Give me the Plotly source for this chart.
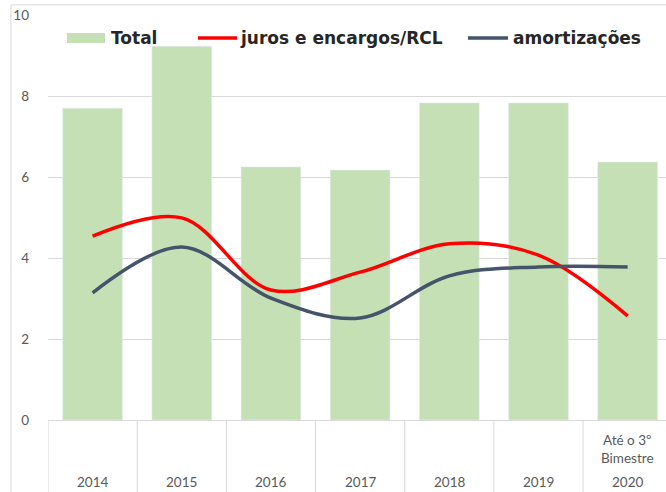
import plotly.graph_objects as go

years = ["2014", "2015", "2016", "2017", "2018", "2019", "2020"]
total = [7.70, 9.23, 6.25, 6.17, 7.83, 7.83, 6.37]
juros = [4.54, 4.99, 3.21, 3.65, 4.35, 4.07, 2.57]
amort = [3.14, 4.27, 3.01, 2.52, 3.56, 3.78, 3.78]
extra_label = ["", "", "", "", "", "", "Até o 3º<br>Bimestre"]
yticks = [0, 2, 4, 6, 8, 10]

GREEN = "#c5e0b4"
RED = "#ff0000"
NAVY = "#44546a"
FONT = "Lato"
LFONT = "DejaVu Sans"

fig = go.Figure()
fig.add_trace(go.Bar(x=years, y=total, name="Total", marker_color=GREEN, showlegend=False))
fig.add_trace(go.Scatter(x=years, y=juros, name="juros e encargos/RCL", mode="lines",
                         line=dict(color=RED, width=3.5, shape="spline"), showlegend=False))
fig.add_trace(go.Scatter(x=years, y=amort, name="amortizações", mode="lines",
                         line=dict(color=NAVY, width=3.5, shape="spline"), showlegend=False))

shapes = []
annotations = []
# outer chart frame
shapes.append(dict(type="rect", xref="paper", yref="paper", x0=-0.06, x1=1.2, y0=-0.3, y1=1.025,
                   line=dict(color="#d9d9d9", width=1), fillcolor="rgba(0,0,0,0)", layer="below"))
# category separators
for i in range(len(years)):
    shapes.append(dict(type="line", xref="x", yref="paper", x0=i - 0.5, x1=i - 0.5, y0=0, y1=-0.2,
                       line=dict(color="#d9d9d9", width=1)))
for i, y in enumerate(years):
    annotations.append(dict(x=i, y=-0.153, xref="x", yref="paper", text=y, showarrow=False,
                            font=dict(family=FONT, size=13.5, color="#595959"), yanchor="middle"))
    if extra_label[i]:
        annotations.append(dict(x=i, y=-0.072, xref="x", yref="paper", text=extra_label[i], showarrow=False,
                                font=dict(family=FONT, size=13.5, color="#595959"), yanchor="middle"))

# manual legend
W, H = 618.0, 405.0
def px(x):
    return (x - 48) / W
def py(y):
    return (420 - y) / H
ly = 38
shapes.append(dict(type="rect", xref="paper", yref="paper", x0=px(67), x1=px(105), y0=py(ly + 5), y1=py(ly - 5),
                   fillcolor=GREEN, line=dict(width=0)))
shapes.append(dict(type="line", xref="paper", yref="paper", x0=px(198), x1=px(237), y0=py(ly), y1=py(ly),
                   line=dict(color=RED, width=3.5)))
shapes.append(dict(type="line", xref="paper", yref="paper", x0=px(468), x1=px(508), y0=py(ly), y1=py(ly),
                   line=dict(color=NAVY, width=3.5)))
for xx, t in [(109, "Total"), (238, "juros e encargos/RCL"), (511, "amortizações")]:
    annotations.append(dict(x=px(xx), y=py(ly), xref="paper", yref="paper", text="<b>%s</b>" % t,
                            showarrow=False, xanchor="left", yanchor="middle",
                            font=dict(family=LFONT, size=17, color="#262626")))

fig.update_layout(
    width=666, height=492,
    margin=dict(l=48, r=0, t=15, b=72),
    paper_bgcolor="white", plot_bgcolor="white",
    bargap=0.33,
    shapes=shapes, annotations=annotations,
    font=dict(family=FONT, color="#595959", size=13),
)
fig.update_xaxes(range=[-0.5, 6.43], showticklabels=False, showgrid=False,
                 showline=True, linecolor="#d9d9d9", linewidth=1, ticks="", fixedrange=True)
fig.update_yaxes(range=[0, 10], tickvals=yticks, showgrid=True, gridcolor="#d9d9d9", gridwidth=1,
                 zeroline=False, showline=False, ticks="", ticklabelstandoff=18,
                 tickfont=dict(family=FONT, size=13.5, color="#595959"))

fig.write_html("out.html", config={"displayModeBar": False},
               post_script="document.body.style.margin='0';document.body.style.overflow='hidden';")
